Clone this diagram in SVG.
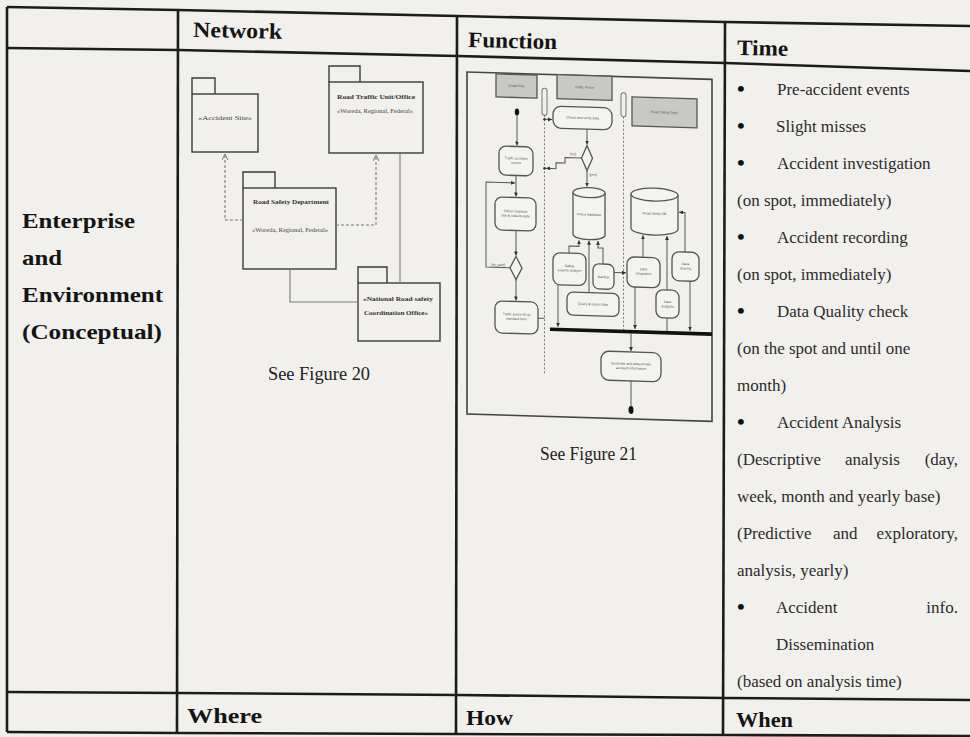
<svg xmlns="http://www.w3.org/2000/svg" width="970" height="737" viewBox="0 0 970 737">
<defs>
<style>
.grid{fill:none;stroke:#1c1c1c;stroke-width:2.6;stroke-linejoin:round}
.hd{font-family:"Liberation Serif","Times New Roman",serif;font-weight:bold;font-size:22px;fill:#141414}
.tx{font-family:"Liberation Serif","Times New Roman",serif;font-size:17px;fill:#2b2b2b}
.bul{font-family:"Liberation Serif","Times New Roman",serif;font-size:22px;font-weight:bold;fill:#111}
.cap{font-family:"Liberation Serif","Times New Roman",serif;font-size:18px;fill:#222}
.pkg{fill:none;stroke:#3a3a3a;stroke-width:1.4}
.pn{font-family:"Liberation Serif",serif;font-weight:bold;font-size:7px;fill:#333;text-anchor:middle}
.ps{font-family:"Liberation Serif",serif;font-size:6.5px;fill:#444;text-anchor:middle}
.dep{fill:none;stroke:#7a7a7a;stroke-width:1.1;stroke-dasharray:3 2}
.assoc{fill:none;stroke:#7a7a7a;stroke-width:1.1}
.fr{fill:none;stroke:#444;stroke-width:1.6}
.lane{fill:#c8c8c5;stroke:#555;stroke-width:1.3}
.act{fill:#f3f3f0;stroke:#555;stroke-width:1.3}
.flow{fill:none;stroke:#555;stroke-width:1}
.sep{fill:none;stroke:#777;stroke-width:1;stroke-dasharray:2 2}
.lbl{font-family:"Liberation Sans",sans-serif;font-size:3.4px;fill:#555;text-anchor:middle}
</style>
<marker id="open" markerWidth="8" markerHeight="8" refX="6" refY="3" orient="auto" markerUnits="userSpaceOnUse">
<path d="M0,0 L6,3 L0,6" fill="none" stroke="#777" stroke-width="1"/>
</marker>
<marker id="arr" markerWidth="6" markerHeight="6" refX="4" refY="2" orient="auto" markerUnits="userSpaceOnUse">
<path d="M0,0 L4,2 L0,4 z" fill="#333"/>
</marker>
</defs>

<rect width="970" height="737" fill="#f1f0ec"/>

<!-- table grid -->
<g id="table">
<polyline class="grid" points="7,7 178,10 457,16 725,22 972,26"/>
<polyline class="grid" points="7,48 178,50 457,56 725,63 972,71"/>
<polyline class="grid" points="7,692 178,693 457,695 725,698 972,700"/>
<polyline class="grid" points="7,732 178,733 457,734 725,735 972,736"/>
<line class="grid" x1="7" y1="7" x2="7" y2="732"/>
<line class="grid" x1="178" y1="10" x2="177" y2="733"/>
<line class="grid" x1="457" y1="16" x2="456" y2="734"/>
<line class="grid" x1="725" y1="22" x2="723" y2="735" stroke-width="3"/>
</g>

<!-- header and footer labels -->
<g id="headers">
<text class="hd" x="193" y="37" textLength="89" lengthAdjust="spacingAndGlyphs" transform="rotate(1.2 193 37)">Network</text>
<text class="hd" x="468" y="47" textLength="89" lengthAdjust="spacingAndGlyphs" transform="rotate(1.3 468 47)">Function</text>
<text class="hd" x="737" y="55" textLength="51" lengthAdjust="spacingAndGlyphs" transform="rotate(1 737 55)">Time</text>
<text class="hd" x="187" y="723" textLength="75" lengthAdjust="spacingAndGlyphs">Where</text>
<text class="hd" x="466" y="725" textLength="47" lengthAdjust="spacingAndGlyphs">How</text>
<text class="hd" x="736" y="727" textLength="57" lengthAdjust="spacingAndGlyphs">When</text>
</g>

<!-- row title -->
<g id="row-title">
<text class="hd" x="22" y="228" textLength="113" lengthAdjust="spacingAndGlyphs">Enterprise</text>
<text class="hd" x="22" y="265" textLength="40" lengthAdjust="spacingAndGlyphs">and</text>
<text class="hd" x="22" y="302" textLength="141" lengthAdjust="spacingAndGlyphs">Environment</text>
<text class="hd" x="22" y="339" textLength="140" lengthAdjust="spacingAndGlyphs">(Conceptual)</text>
</g>

<!-- package diagram (network) -->
<g id="network-fig">
<g id="pkg-accident-site">
<path class="pkg" d="M192,94 V78 H215 V94"/>
<rect class="pkg" x="192" y="94" width="66" height="58"/>
<text class="ps" x="225" y="120" textLength="54" lengthAdjust="spacingAndGlyphs">«Accident Site»</text>
</g>
<g id="pkg-road-traffic">
<path class="pkg" d="M329,82 V66 H360 V82"/>
<rect class="pkg" x="329" y="82" width="94" height="71"/>
<text class="pn" x="376" y="99" textLength="78" lengthAdjust="spacingAndGlyphs">Road Traffic Unit/Office</text>
<text class="ps" x="375" y="113" textLength="76" lengthAdjust="spacingAndGlyphs">«Woreda, Regional, Federal»</text>
</g>
<g id="pkg-road-safety">
<path class="pkg" d="M243,188 V172 H275 V188"/>
<rect class="pkg" x="243" y="188" width="93" height="81"/>
<text class="pn" x="291" y="204" textLength="76" lengthAdjust="spacingAndGlyphs">Road Safety Department</text>
<text class="ps" x="290" y="232" textLength="76" lengthAdjust="spacingAndGlyphs">«Woreda, Regional, Federal»</text>
</g>
<g id="pkg-national">
<path class="pkg" d="M358,283 V267 H387 V283"/>
<rect class="pkg" x="358" y="283" width="82" height="58"/>
<text class="pn" x="398" y="301" textLength="70" lengthAdjust="spacingAndGlyphs">«National Road safety</text>
<text class="pn" x="396" y="315" textLength="64" lengthAdjust="spacingAndGlyphs">Coordination Office»</text>
</g>
<g id="network-links">
<path class="dep" d="M243,220 H225 V154" marker-end="url(#open)"/>
<path class="dep" d="M336,225 H376 V155" marker-end="url(#open)"/>
<path class="assoc" d="M290,269 V302 H358"/>
<path class="assoc" d="M400,153 V283"/>
</g>
</g>
<text class="cap" x="268" y="380" textLength="102" lengthAdjust="spacingAndGlyphs">See Figure 20</text>

<!-- activity diagram (function), slightly sheared like the page -->
<g id="function-fig" transform="matrix(1,0.03,0,1,0,-14.01)">
<rect class="fr" x="467" y="72" width="245" height="342"/>

<g id="lanes">
<rect class="lane" x="496" y="73" width="41" height="23"/>
<text class="lbl" x="516.5" y="85.5">Crash Site</text>
<rect class="lane" x="557" y="72" width="55" height="24"/>
<text class="lbl" x="584.5" y="85">Traffic Police</text>
<rect class="lane" x="632" y="92" width="65" height="29"/>
<text class="lbl" x="664.5" y="107.5">Road Safety Dept.</text>
<rect x="542" y="86" width="5" height="27" rx="2.5" fill="none" stroke="#777" stroke-width="1"/>
<rect x="621" y="88" width="5" height="24" rx="2.5" fill="none" stroke="#777" stroke-width="1"/>
<line class="sep" x1="544.5" y1="113" x2="544.5" y2="371"/>
<line class="sep" x1="623.5" y1="112" x2="623.5" y2="325"/>
</g>

<g id="connectors">
<path class="flow" d="M517,114 V144" marker-end="url(#arr)"/>
<path class="flow" d="M516,174 V195" marker-end="url(#arr)"/>
<path class="flow" d="M516,229 V254" marker-end="url(#arr)"/>
<path class="flow" d="M516,278 V299" marker-end="url(#arr)"/>
<path class="flow" d="M510,266.5 H486 V181.5 H515" marker-end="url(#arr)"/>
<path class="flow" d="M538,316 H544.5"/>
<path class="flow" d="M545,117 H552" marker-end="url(#arr)"/>
<path class="flow" d="M587,125.5 V141" marker-end="url(#arr)"/>
<path class="flow" d="M581.5,154.5 H565 V160 H556 V166 H546" marker-end="url(#arr)"/>
<path class="flow" d="M587,167 V183" marker-end="url(#arr)"/>
<path class="flow" d="M569,250 V243 H579 V237" marker-end="url(#arr)"/>
<path class="flow" d="M589,289 V237" marker-end="url(#arr)"/>
<path class="flow" d="M603,260 V244 H598 V237" marker-end="url(#arr)"/>
<path class="flow" d="M614,268 H626" marker-end="url(#arr)"/>
<path class="flow" d="M558,282 V324" marker-end="url(#arr)"/>
<path class="flow" d="M643,252 V230" marker-end="url(#arr)"/>
<path class="flow" d="M667,284 V230" marker-end="url(#arr)"/>
<path class="flow" d="M685,245.5 V206 H679" marker-end="url(#arr)"/>
<path class="flow" d="M635,282 V324" marker-end="url(#arr)"/>
<path class="flow" d="M667,312 V325"/>
<path class="flow" d="M690,274.5 V324" marker-end="url(#arr)"/>
<path class="flow" d="M631,328.5 V346" marker-end="url(#arr)"/>
<path class="flow" d="M631,376 V401"/>
<circle cx="544.5" cy="117" r="1.3" fill="#333"/>
<circle cx="544.5" cy="166" r="1.3" fill="#333"/>
<text class="lbl" x="498" y="265">[ok_path]</text>
<text class="lbl" x="573" y="152">[no]</text>
<text class="lbl" x="593" y="172">[yes]</text>
</g>

<g id="nodes">
<ellipse id="start" cx="517" cy="110.5" rx="2.2" ry="3.5" fill="#111"/>
<g id="a1"><rect class="act" x="499" y="145" width="34" height="29" rx="7"/><text class="lbl" x="516" y="158">Traffic accident</text><text class="lbl" x="516" y="162.5">occurs</text></g>
<g id="a2"><rect class="act" x="495" y="196" width="41" height="33" rx="7"/><text class="lbl" x="515.5" y="211">Officer inspects</text><text class="lbl" x="515.5" y="215.5">site &amp; collects data</text></g>
<path id="d1" class="act" d="M516,255 L522,266.5 L516,278 L510,266.5 Z"/>
<g id="a3"><rect class="act" x="495" y="300" width="43" height="32" rx="7"/><text class="lbl" x="516.5" y="314">Traffic police fill up</text><text class="lbl" x="516.5" y="318.5">standard form</text></g>
<g id="b1"><rect class="act" x="553" y="103.5" width="59" height="22" rx="8"/><text class="lbl" x="582.5" y="115.5">Check and verify data</text></g>
<path id="d2" class="act" d="M587,142 L592.5,154.5 L587,167 L581.5,154.5 Z"/>
<g id="db1">
<path class="act" d="M573,189 V231 A16,5 0 0 0 605,231 V189"/>
<ellipse class="act" cx="589" cy="189" rx="16" ry="5"/>
<text class="lbl" x="589" y="212">Police database</text>
</g>
<g id="c1"><rect class="act" x="553" y="250" width="33" height="32" rx="7"/><text class="lbl" x="569.5" y="264">Safety</text><text class="lbl" x="569.5" y="268.5">experts analyze</text></g>
<g id="c2"><rect class="act" x="593" y="260" width="21" height="25" rx="6"/><text class="lbl" x="603.5" y="274">Backup</text></g>
<g id="c3"><rect class="act" x="567" y="289" width="52" height="23" rx="6"/><text class="lbl" x="593" y="301.5">Query &amp; report data</text></g>
<g id="db2">
<path class="act" d="M631,189 V223 A23.5,6.5 0 0 0 678,223 V189"/>
<ellipse class="act" cx="654.5" cy="189" rx="23.5" ry="6.5"/>
<text class="lbl" x="654.5" y="209">Road safety DB</text>
</g>
<g id="dd1"><rect class="act" x="627" y="252" width="33" height="30" rx="7"/><text class="lbl" x="643.5" y="265">Data</text><text class="lbl" x="643.5" y="269.5">integration</text></g>
<g id="dd2"><rect class="act" x="672" y="245.5" width="27" height="29" rx="7"/><text class="lbl" x="685.5" y="258.5">Data</text><text class="lbl" x="685.5" y="263">sharing</text></g>
<g id="dd3"><rect class="act" x="656" y="284" width="23" height="28" rx="7"/><text class="lbl" x="667.5" y="297">Data</text><text class="lbl" x="667.5" y="301.5">analysis</text></g>
<rect id="join" x="550" y="325" width="162" height="3.6" fill="#111"/>
<g id="e1"><rect class="act" x="601" y="347" width="60" height="29" rx="8"/><text class="lbl" x="631" y="360">Generate and disseminate</text><text class="lbl" x="631" y="364.5">accident information</text></g>
<ellipse id="end" cx="631" cy="405" rx="2.5" ry="4" fill="#111"/>
</g>
</g>
<text class="cap" x="540" y="460" textLength="97" lengthAdjust="spacingAndGlyphs">See Figure 21</text>

<!-- time column -->
<g id="time-list">
<text class="bul" x="737" y="96">•</text><text class="tx" x="777" y="95">Pre-accident events</text>
<text class="bul" x="737" y="133">•</text><text class="tx" x="776" y="132">Slight misses</text>
<text class="bul" x="737" y="170">•</text><text class="tx" x="777" y="169">Accident investigation</text>
<text class="tx" x="737" y="206">(on spot, immediately)</text>
<text class="bul" x="737" y="244">•</text><text class="tx" x="777" y="243">Accident recording</text>
<text class="tx" x="737" y="280">(on spot, immediately)</text>
<text class="bul" x="737" y="318">•</text><text class="tx" x="777" y="317">Data Quality check</text>
<text class="tx" x="737" y="354">(on the spot and until one</text>
<text class="tx" x="737" y="391">month)</text>
<text class="bul" x="737" y="429">•</text><text class="tx" x="777" y="428">Accident Analysis</text>
<text class="tx" x="737" y="465">(Descriptive</text><text class="tx" x="845" y="465">analysis</text><text class="tx" x="958" y="465" text-anchor="end">(day,</text>
<text class="tx" x="737" y="502">week, month and yearly base)</text>
<text class="tx" x="737" y="539">(Predictive</text><text class="tx" x="833" y="539">and</text><text class="tx" x="958" y="539" text-anchor="end">exploratory,</text>
<text class="tx" x="737" y="576">analysis, yearly)</text>
<text class="bul" x="737" y="614">•</text><text class="tx" x="776" y="613">Accident</text><text class="tx" x="958" y="613" text-anchor="end">info.</text>
<text class="tx" x="776" y="650">Dissemination</text>
<text class="tx" x="737" y="687">(based on analysis time)</text>
</g>
</svg>
